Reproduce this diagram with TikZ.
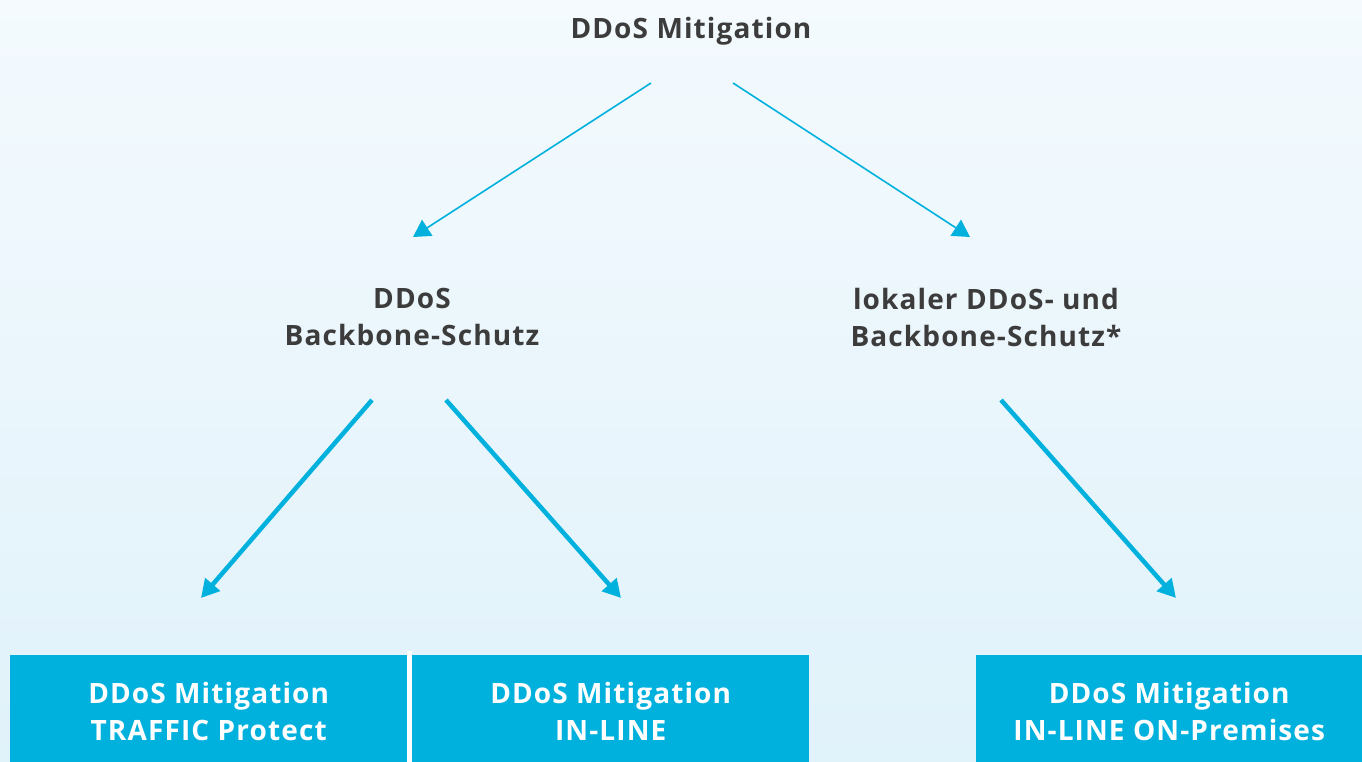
\documentclass[tikz,border=0pt]{standalone}
\usepackage{fontspec}
\setmainfont{Open Sans}[UprightFont=* Bold, LetterSpace=4]
\usetikzlibrary{arrows.meta}

\begin{document}
\begin{tikzpicture}
          [x=1pt, y=-1pt,
           every node/.style = {font = \fontsize{28}{37}\selectfont, align = center, inner sep = 0pt},
           head/.style = {text = headcolor},
           box/.style  = {fill = boxcolor, text = white, minimum height = 107pt, anchor = north west},
           thin arrow/.style  = {draw = boxcolor, line width = 1.6pt, -{Triangle[length=17pt, width=19pt]}},
           thick arrow/.style = {draw = boxcolor, line width = 4.5pt, -{Triangle[length=18pt, width=19pt]}}]

% Define colors
\definecolor{boxcolor}{RGB}{0,177,222}
\definecolor{headcolor}{RGB}{60,60,60}
\definecolor{topcolor}{RGB}{244,250,254}
\definecolor{bottomcolor}{RGB}{224,242,250}

% Background
  \shade [top color = topcolor, bottom color = bottomcolor] (0,0) rectangle (1362,762);
  \useasboundingbox (0,0) rectangle (1362,762);

% Headings
  \node [head](root)     at (691,31)  {DDoS Mitigation};
  \node [head](backbone) at (412,317) {DDoS\\Backbone-Schutz};
  \node [head](lokal)    at (986,317) {lokaler DDoS- und\\Backbone-Schutz*};

% Boxes
  \fill [white] (407,651) rectangle (412,762);
  \node [box, minimum width = 397pt](traffic)  at (10,655)  {};
  \node [box, minimum width = 397pt](inline)   at (412,655) {};
  \node [box, minimum width = 386pt](premises) at (976,655) {};
  \node [text = white] at ([yshift=-56pt]traffic.north)  {DDoS Mitigation\\TRAFFIC Protect};
  \node [text = white] at ([yshift=-56pt]inline.north)   {DDoS Mitigation\\IN-LINE};
  \node [text = white] at ([yshift=-56pt]premises.north) {DDoS Mitigation\\IN-LINE ON-Premises};

% Arrow ends
  \coordinate (root-l)     at (651,83);
  \coordinate (root-r)     at (733,83);
  \coordinate (backbone-t) at (413,237);
  \coordinate (lokal-t)    at (970,237);
  \coordinate (backbone-l) at (372,400);
  \coordinate (backbone-r) at (446,400);
  \coordinate (lokal-b)    at (1001,400);
  \coordinate (traffic-t)  at (201,598);
  \coordinate (inline-t)   at (621,598);
  \coordinate (premises-t) at (1176,598);

% Connections
  \path [thin arrow]  (root-l)     -- (backbone-t);
  \path [thin arrow]  (root-r)     -- (lokal-t);
  \path [thick arrow] (backbone-l) -- (traffic-t);
  \path [thick arrow] (backbone-r) -- (inline-t);
  \path [thick arrow] (lokal-b)    -- (premises-t);

\end{tikzpicture}
\end{document}
